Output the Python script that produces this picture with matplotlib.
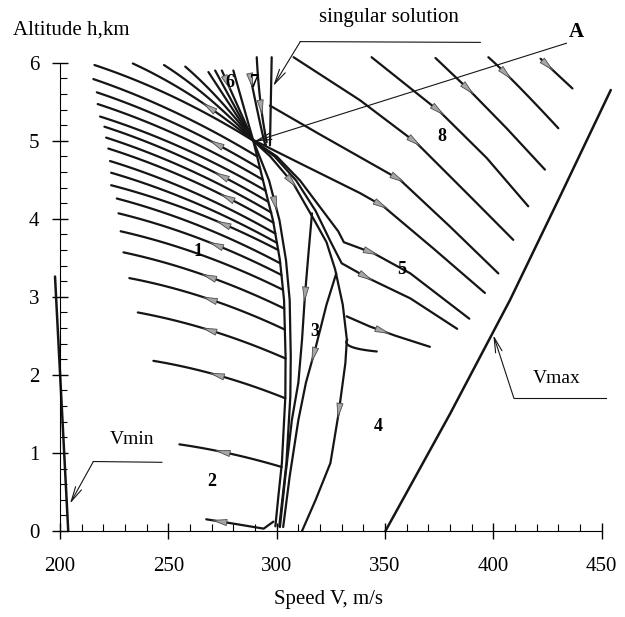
import numpy as np
import matplotlib.pyplot as plt
from matplotlib.ticker import MultipleLocator

plt.rcParams['font.family'] = ['Liberation Serif', 'DejaVu Serif']

# ---- extremal curves in the (V, h) plane ----
# switching line (double) from point A down to the V axis
switch_V = [289.2, 293.7, 298.3, 301.5, 303.4, 304.1, 304.0, 303.2, 302.4, 300.8, 299.4]
switch_h = [5.0, 4.49, 3.98, 3.47, 2.96, 2.24, 1.72, 1.3, 0.87, 0.45, 0.06]
switch2_V = [289.2, 296.5, 301.3, 304.3, 306.0, 306.5, 306.3, 305.4, 304.5, 302.8, 301.2]

# region 1/2 trajectories (flown right to left): left end, middle, switching line
fan1 = [
    ([233.6, 261.4, 289.2], [5.99, 5.565, 5.0]),
    ([248.0, 268.6, 289.2], [5.97, 5.545, 5.0]),
    ([257.8, 273.5, 289.2], [5.95, 5.525, 5.0]),
    ([215.9, 252.5, 289.2], [5.97, 5.56, 5.0]),
    ([215.4, 253.1, 290.9], [5.79, 5.365, 4.8]),
    ([217.0, 254.7, 292.4], [5.62, 5.2, 4.64]),
    ([217.4, 255.5, 293.6], [5.47, 5.055, 4.5]),
    ([218.5, 256.7, 294.9], [5.31, 4.905, 4.36]),
    ([220.5, 258.2, 296.0], [5.18, 4.77, 4.22]),
    ([221.3, 259.4, 297.5], [5.04, 4.63, 4.08]),
    ([222.3, 260.4, 298.5], [4.90, 4.495, 3.95]),
    ([223.1, 261.2, 299.4], [4.74, 4.345, 3.81]),
    ([223.6, 261.9, 300.2], [4.59, 4.21, 3.69]),
    ([223.6, 262.1, 300.7], [4.43, 4.085, 3.6]),
    ([226.2, 263.9, 301.6], [4.26, 3.915, 3.43]),
    ([227.0, 264.6, 302.2], [4.07, 3.745, 3.28]),
    ([228.0, 265.4, 302.9], [3.84, 3.535, 3.09]),
    ([229.3, 266.4, 303.5], [3.57, 3.28, 2.85]),
    ([232.0, 267.9, 303.8], [3.24, 2.98, 2.58]),
    ([235.9, 270.0, 304.1], [2.80, 2.565, 2.21]),
    ([243.1, 273.5, 304.0], [2.18, 1.99, 1.70]),
    ([255.1, 278.7, 302.3], [1.11, 0.99, 0.82]),
    ([267.5, 281.0, 294.0, 298.5], [0.15, 0.09, 0.03, 0.12]),
]
fan1_arrows = [(267.7, 5.44), (270.8, 4.96), (273.2, 4.55), (275.5, 4.25),
               (274.0, 3.93), (270.8, 3.67), (267.7, 3.27), (268.0, 2.98),
               (267.7, 2.58), (270.8, 1.96), (273.8, 1.0), (272.3, 0.1)]
fan1_with_arrows = [0, 5, 8, 10, 13, 15, 17, 18, 19, 20, 21, 22]

# curves 6 and 7 running into A from above
fan6 = [
    ([268.5, 289.2], [5.88, 5.0]),
    ([271.6, 289.2], [5.90, 5.0]),
    ([274.7, 289.2], [5.90, 5.0]),
    ([280.0, 289.2], [5.90, 5.0]),
]
fan7 = [
    ([290.8, 292.5, 295.4], [6.07, 5.5, 4.98]),
    ([297.7, 297.3, 296.9], [6.07, 5.5, 4.94]),
    ([287.7, 293.1, 295.0], [5.84, 5.13, 4.95]),
]

# region 8 trajectories (flown left to right)
fan8 = [
    ([421.8, 436.5], [6.05, 5.67]),
    ([397.7, 410.8, 430.0], [6.07, 5.72, 5.16]),
    ([373.3, 389.2, 406.1, 423.8], [6.06, 5.64, 5.16, 4.63]),
    ([343.8, 375.4, 396.9, 416.1], [6.07, 5.37, 4.78, 4.16]),
    ([307.8, 338.4, 364.6, 387.7, 409.2], [6.07, 5.52, 4.97, 4.33, 3.73]),
    ([296.9, 320.0, 356.9, 380.0, 402.3], [5.45, 5.08, 4.50, 3.90, 3.30]),
    ([289.2, 310.8, 338.4, 349.2, 372.3, 396.1], [5.01, 4.71, 4.33, 4.16, 3.62, 3.05]),
]
fan8_arrows = [(426.1, 5.95), (406.1, 5.82), (389.2, 5.64), (375.4, 5.37),
               (364.6, 4.97), (356.9, 4.50), (349.2, 4.16)]

# region 5 trajectories
curve5_upper_V = [289.2, 300.0, 310.8, 320.0, 328.4, 331.0, 344.6, 361.7, 388.9]
curve5_upper_h = [5.0, 4.8, 4.49, 4.15, 3.84, 3.7, 3.56, 3.30, 2.72]
curve5_lower_V = [289.2, 299.0, 309.0, 318.0, 325.0, 330.0, 342.2, 361.7, 383.3]
curve5_lower_h = [5.0, 4.8, 4.49, 4.1, 3.7, 3.43, 3.24, 2.98, 2.59]

# region 4 boundary and branches
curve4_V = [289.2, 297.0, 307.7, 317.0, 323.0, 327.0, 330.5, 332.4, 331.7, 328.6, 324.8, 318.0, 311.7]
curve4_h = [5.0, 4.8, 4.45, 4.0, 3.7, 3.35, 2.9, 2.45, 2.15, 1.51, 0.87, 0.4, 0.0]
branch1_V = [332.3, 343.0, 355.0, 370.7]
branch1_h = [2.75, 2.62, 2.50, 2.36]
branch2_V = [332.6, 334.5, 346.2]
branch2_h = [2.45, 2.36, 2.30]

# region 3 lines
line3a_V = [316.3, 314.5, 313.0, 311.7, 310.0, 307.0, 304.0, 301.5]
line3a_h = [4.07, 3.5, 3.0, 2.45, 1.9, 1.42, 0.7, 0.05]
line3b_V = [327.5, 323.0, 320.0, 317.7, 313.5, 310.0, 306.0, 303.0]
line3b_h = [3.3, 2.9, 2.57, 2.32, 1.9, 1.42, 0.7, 0.05]

# speed limits
vmin_V = [197.7, 203.8]
vmin_h = [3.26, 0.0]
vmax_V = [350.2, 380.0, 407.7, 431.0, 454.2]
vmax_h = [0.0, 1.5, 2.96, 4.3, 5.65]

region_labels = ['1', '2', '3', '4', '5', '6', '7', '8']
region_V = [263.8, 270.0, 317.7, 346.9, 357.7, 278.5, 289.8, 376.1]
region_h = [3.58, 0.63, 2.55, 1.34, 3.35, 5.74, 5.74, 5.05]

fig = plt.figure(figsize=(6.25, 6.17), dpi=100)
ax = fig.add_axes([0.096, 0.1394, 0.8667, 0.759])
ax.set_xlim(200, 450)
ax.set_ylim(0, 6)

ink = '#151515'
lw = 1.6
t = np.linspace(0, 1, 40)[:, None]


def trace(V, h):
    # three-point curves are drawn as a smooth arc through all three points
    pts = np.column_stack([V, h]).astype(float)
    if len(pts) != 3:
        return pts
    p0, m, p2 = pts
    c = 2 * m - (p0 + p2) / 2
    return (1 - t) ** 2 * p0 + 2 * (1 - t) * t * c + t ** 2 * p2


def curve(V, h, width=lw):
    xy = trace(V, h)
    ax.plot(xy[:, 0], xy[:, 1], color=ink, lw=width, clip_on=False,
            solid_capstyle='round')


def arrow_on(V, h, at, sense=1):
    # small gray arrowhead sitting on the line near point `at`
    pts = ax.transData.transform(trace(V, h))
    p = ax.transData.transform([at])[0]
    best = None
    for a, b in zip(pts[:-1], pts[1:]):
        d = b - a
        s = np.clip(np.dot(p - a, d) / np.dot(d, d), 0, 1)
        q = a + s * d
        dist = np.hypot(*(p - q))
        if best is None or dist < best[0]:
            best = (dist, q, d / np.hypot(*d))
    _, q, u = best
    inv = ax.transData.inverted()
    tip = inv.transform(q + sense * u * 6)
    tail = inv.transform(q - sense * u * 6)
    ax.annotate('', xy=tip, xytext=tail, annotation_clip=False,
                arrowprops=dict(arrowstyle='-|>,head_length=1.0,head_width=0.22',
                                mutation_scale=10, lw=0.6, color='0.3',
                                fc='0.65', shrinkA=0, shrinkB=0))


def leader(V, h, tip):
    ax.plot(V, h, color=ink, lw=0.8, clip_on=False)
    ax.annotate('', xy=tip, xytext=(V[-1], h[-1]), annotation_clip=False,
                arrowprops=dict(arrowstyle='->,head_length=0.9,head_width=0.2',
                                mutation_scale=12, lw=0.8, color=ink,
                                shrinkA=0, shrinkB=0))


curve(switch_V, switch_h)
curve(switch2_V, switch_h)
for V, h in fan1 + fan6 + fan7 + fan8:
    curve(V, h)
curve(curve5_upper_V, curve5_upper_h)
curve(curve5_lower_V, curve5_lower_h)
curve(curve4_V, curve4_h)
curve(branch1_V, branch1_h)
curve(branch2_V, branch2_h)
curve(line3a_V, line3a_h)
curve(line3b_V, line3b_h)
curve(vmin_V, vmin_h, 1.8)
curve(vmax_V, vmax_h, 1.8)

# direction of motion
for i, at in zip(fan1_with_arrows, fan1_arrows):
    arrow_on(*fan1[i], at, sense=-1)
for (V, h), at in zip(fan8, fan8_arrows):
    arrow_on(V, h, at)
arrow_on(curve5_upper_V, curve5_upper_h, (344.6, 3.56))
arrow_on(curve5_lower_V, curve5_lower_h, (342.2, 3.24))
arrow_on(branch1_V, branch1_h, (350.0, 2.55))
arrow_on(curve4_V, curve4_h, (307.7, 4.45))
arrow_on(curve4_V, curve4_h, (328.6, 1.51))
arrow_on(switch2_V, switch_h, (302.0, 4.18))
arrow_on(line3a_V, line3a_h, (313.0, 3.0))
arrow_on(line3b_V, line3b_h, (316.2, 2.23))
arrow_on(*fan7[0], (291.5, 5.39))
arrow_on(*fan6[2], (278.0, 5.72))
arrow_on(*fan7[2], (288.5, 5.74))

for s, V, h in zip(region_labels, region_V, region_h):
    ax.text(V, h, s, fontsize=13, fontweight='bold', ha='center', va='center')

# annotations with leader lines
ax.text(351.8, 6.58, 'singular solution', fontsize=15, ha='center', va='center')
leader([394.0, 310.9], [6.26, 6.27], (298.4, 5.70))
ax.text(438.5, 6.39, 'A', fontsize=15, fontweight='bold', ha='center', va='center')
leader([433.8, 433.8], [6.25, 6.25], (289.6, 4.99))
ax.text(233.1, 1.17, 'Vmin', fontsize=14, ha='center', va='center')
leader([247.0, 215.4], [0.88, 0.89], (204.6, 0.35))
ax.text(429.2, 1.96, 'Vmax', fontsize=14, ha='center', va='center')
leader([451.8, 409.5], [1.70, 1.70], (400.0, 2.51))

# axes: only the left and bottom lines, ticks crossing the axis
for side in ('top', 'right'):
    ax.spines[side].set_visible(False)
ax.spines['left'].set_bounds(0, 6)
ax.spines['bottom'].set_bounds(200, 450)
ax.xaxis.set_major_locator(MultipleLocator(50))
ax.xaxis.set_minor_locator(MultipleLocator(10))
ax.yaxis.set_major_locator(MultipleLocator(1))
ax.yaxis.set_minor_locator(MultipleLocator(0.2))
ax.tick_params(which='major', direction='inout', length=12, width=1, labelsize=15)
ax.tick_params(which='minor', direction='in', length=5, width=0.8)
ax.tick_params(axis='x', which='major', pad=13)
ax.tick_params(axis='y', which='major', pad=9)

fig.text(0.0208, 0.9514, 'Altitude h,km', fontsize=15, ha='left', va='center')
fig.text(0.5264, 0.0276, 'Speed V, m/s', fontsize=15, ha='center', va='center')

fig.savefig('out.png', dpi=100)
